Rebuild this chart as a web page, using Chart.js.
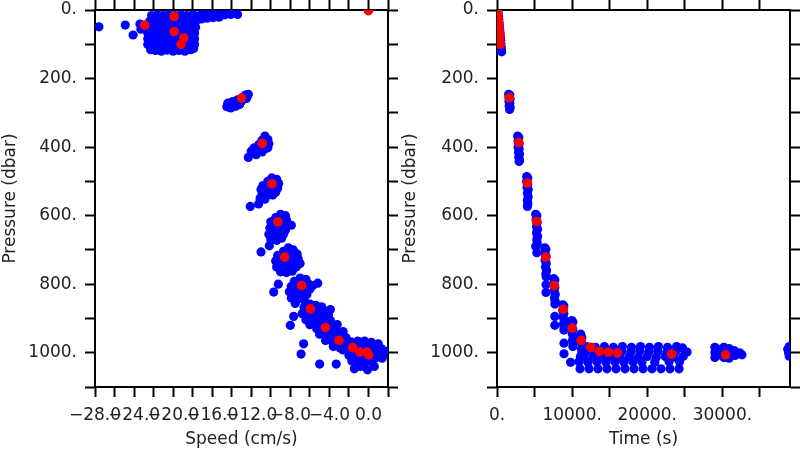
<!DOCTYPE html>
<html>
<head>
<meta charset="utf-8">
<script src="https://cdn.jsdelivr.net/npm/chart.js@4.4.1/dist/chart.umd.min.js"></script>
<style>
  html, body { margin: 0; padding: 0; background: #fff; }
  #wrap { position: relative; width: 800px; height: 450px; }
  canvas { position: absolute; top: 0; }
</style>
</head>
<body>
<div id="wrap">
  <canvas id="speedChart" width="400" height="450" style="left:0"></canvas>
  <canvas id="timeChart" width="400" height="450" style="left:400px"></canvas>
</div>
<script>
// ---- tick values and labels
const speedTicks = [-28,-26,-24,-22,-20,-18,-16,-14,-12,-10,-8,-6,-4,-2,0,2];
const speedTickLabels = ['\u221228.0','','\u221224.0','','\u221220.0','','\u221216.0','','\u221212.0','','\u22128.0','','\u22124.0','','0.0',''];
const timeTicks = [0,5000,10000,15000,20000,25000,30000,35000];
const timeTickLabels = ['0.','','10000.','','20000.','','30000.',''];
const pressureTicks = [0,100,200,300,400,500,600,700,800,900,1000,1100];
const pressureTickLabels = ['0.','','200.','','400.','','600.','','800.','','1000.',''];

// ---- speed (cm/s) vs pressure (dbar), blue = all samples, red = station means
const speedTop = [
  [-22.2,16],[-21.6,14],[-21.0,16],[-20.4,14],[-19.8,16],[-19.2,14],[-18.6,16],[-18.0,14],[-17.6,18],
  [-22.4,33],[-21.8,32],[-21.2,34],[-20.6,31],[-20.0,34],[-19.4,32],[-18.8,34],[-18.2,31],[-17.7,34],
  [-22.5,50],[-21.9,49],[-21.3,51],[-20.7,48],[-20.1,51],[-19.5,49],[-18.9,51],[-18.3,48],[-17.7,50],
  [-22.6,67],[-22.0,66],[-21.4,68],[-20.8,65],[-20.2,68],[-19.6,66],[-19.0,68],[-18.4,65],[-17.8,67],
  [-22.6,84],[-22.1,83],[-21.5,85],[-20.9,82],[-20.3,85],[-19.7,83],[-19.1,85],[-18.5,82],[-17.8,84],
  [-22.6,101],[-22.1,100],[-21.5,102],[-20.9,99],[-20.3,102],[-19.7,100],[-19.1,102],[-18.5,99],[-17.8,101],
  [-22.3,116],[-21.8,118],[-21.2,120],[-20.6,117],[-20.0,120],[-19.4,118],[-18.8,120],[-18.2,116],[-17.9,112]
];
const speedTail = [
  [-17.1,14],[-17.1,26],[-16.5,13],[-16.5,24],[-15.9,14],[-15.9,22],[-15.3,13],[-15.3,21],
  [-14.7,14],[-14.1,13],[-13.4,13]
];
const speedStray = [[-27.6,49],[-24.9,44],[-24.1,73],[-23.4,41],[-23.3,56]];
const speed260 = [
  [-14.5,282],[-14.4,272],[-14.0,278],[-13.9,267],[-13.5,272],[-13.4,262],[-13.0,266],[-12.8,254],
  [-12.5,258],[-12.3,246],[-12.6,248],[-14.1,286],[-13.6,281],[-13.2,276],[-12.4,252]
];
const speed390 = [
  [-10.6,368],[-10.3,378],[-10.9,380],[-11.2,392],[-10.6,392],[-10.2,390],[-11.7,402],[-11.1,404],
  [-10.6,405],[-10.3,402],[-12.0,412],[-11.4,414],[-10.9,414],[-11.5,422],[-12.3,430]
];
const speed500 = [
  [-9.9,490],[-9.4,494],[-10.3,500],[-9.7,502],[-9.2,506],[-10.8,512],[-10.3,514],[-9.7,516],
  [-9.3,520],[-11.0,524],[-10.5,526],[-10.0,528],[-9.5,532],[-10.9,538],[-10.4,540],[-9.8,540],
  [-11.1,550],[-10.6,552],[-12.1,573],[-11.25,566]
];
const speed620 = [
  [-9.0,596],[-8.5,600],[-9.5,606],[-9.0,610],[-8.4,612],[-10.0,618],[-9.4,622],[-8.8,624],
  [-8.2,626],[-7.9,628],[-10.1,636],[-9.6,638],[-9.0,640],[-8.5,642],[-10.2,654],[-9.7,656],
  [-9.2,658],[-8.7,654],[-10.0,670],[-9.4,672],[-8.9,666],[-11.0,706],[-10.15,688]
];
const speed720 = [
  [-8.2,694],[-7.7,700],[-8.7,704],[-8.0,708],[-7.3,712],[-9.3,716],[-8.6,720],[-7.9,722],
  [-7.2,726],[-9.5,732],[-9.0,734],[-8.3,736],[-7.6,738],[-7.0,740],[-9.4,750],[-8.8,752],
  [-8.1,752],[-7.4,750],[-9.0,764],[-8.4,766],[-7.8,762],[-9.23,800],[-9.7,823]
];
const speed800 = [
  [-7.0,782],[-6.4,786],[-7.6,792],[-6.9,796],[-6.2,798],[-5.2,797],[-5.7,804],[-7.9,806],
  [-7.4,808],[-6.7,812],[-6.0,814],[-8.1,822],[-7.6,826],[-6.9,828],[-6.3,830],[-7.9,840],
  [-7.2,842],[-6.6,846],[-7.5,856],[-7.66,894],[-8.0,920]
];
const speed870 = [
  [-6.0,858],[-5.4,862],[-4.8,866],[-6.6,868],[-5.9,874],[-5.2,878],[-4.5,878],[-3.9,874],
  [-6.8,886],[-6.1,890],[-5.4,892],[-4.7,894],[-4.1,890],[-6.4,904],[-5.7,906],[-5.0,908],
  [-6.0,918],[-5.3,922],[-6.64,974],[-6.9,1004],[-5.0,1033]
];
const speed930 = [
  [-4.6,902],[-3.9,906],[-5.2,912],[-4.5,918],[-3.8,922],[-3.2,918],[-5.3,930],[-4.6,934],
  [-3.9,938],[-3.3,936],[-2.6,938],[-5.0,946],[-4.3,950],[-3.6,954],[-2.9,954],[-2.3,956],
  [-4.4,964],[-3.7,968],[-3.0,972],[-2.4,972],[-3.6,982],[-2.9,986]
];
const speed1000 = [
  [-1.8,968],[-1.1,966],[-0.4,966],[0.3,970],[1.0,974],[-2.2,980],[-1.5,982],[-0.8,982],
  [-0.1,984],[0.6,986],[1.3,988],[1.8,996],[-2.6,992],[-1.9,994],[-1.2,996],[-0.5,998],
  [0.2,998],[0.9,1000],[1.5,1004],[-2.0,1008],[-1.3,1010],[-0.6,1012],[0.1,1012],[0.8,1014],
  [1.4,1016],[-1.7,1024],[-1.0,1026],[-0.3,1028],[0.4,1026],[-3.3,1033],[-1.44,1047],
  [-0.1,1050],[0.6,1040],[-0.8,1040]
];
const speedMeans = [
  [-22.9,44],[-19.9,19],[-19.9,63],[-18.9,81],[-19.2,100],[-13.0,257],[-10.87,389],[-9.88,507],
  [-9.27,618],[-8.58,721],[-6.84,804],[-5.95,872],[-4.41,926],[-3.02,964],[-1.62,985],[-0.90,998],
  [-0.14,998],[0.03,1006],[0.0,2]
];

// ---- time (s) vs pressure (dbar)
const timeDescent = [
  [60,0],[150,8],[200,18],[240,28],[290,38],[330,48],[370,58],[410,68],[450,78],[490,88],
  [520,98],[560,108],[590,116],[620,122]
];
const time260 = [[1550,246],[1700,248],[1600,256],[1750,260],[1600,266],[1700,272],[1620,280],[1750,284],[1680,290]];
const time390 = [[2750,368],[2900,372],[2800,382],[2950,390],[2800,400],[2950,405],[2850,415],[3000,420],[2900,430],[3000,438],[2950,442]];
const time500 = [[3950,486],[4100,490],[3950,500],[4100,508],[4000,518],[4150,524],[4050,535],[4150,545],[4050,555],[4100,565],[4050,573]];
const time620 = [[5150,596],[5300,600],[5200,612],[5350,620],[5250,632],[5400,640],[5250,650],[5400,660],[5300,670],[5350,680],[5150,690],[5300,708]];
const time720 = [[6350,694],[6500,698],[6400,710],[6550,720],[6400,730],[6550,740],[6450,750],[6600,760],[6500,770],[6550,778],[6520,802],[6520,824]];
const time800 = [[7550,784],[7700,788],[7550,800],[7700,810],[7600,820],[7750,830],[7650,840],[7750,850],[7700,858],[7700,894],[7700,920]];
const time870 = [[8750,860],[8900,864],[8750,876],[8900,886],[8800,896],[8950,906],[8850,916],[8950,926],[8900,934],[8920,972],[8920,1003]];
const time930 = [[9950,906],[10100,910],[9950,922],[10100,932],[10000,944],[10150,954],[10050,964],[10150,974],[10100,982],
  [11150,946],[11300,956],[11200,968],[11350,978],[11250,990],[11300,1000],[11100,1012]];
const timeBottom = [
  [11900,982],[13100,984],[14300,982],[15500,984],[16700,982],[17900,984],[19100,982],[20300,984],[21500,982],[22700,984],[23900,982],[24700,986],
  [11800,997],[13000,998],[14200,996],[15400,998],[16600,996],[17800,998],[19000,996],[20200,998],[21400,996],[22600,998],[23800,996],[25300,998],
  [11600,1012],[12800,1011],[14000,1013],[15200,1011],[16400,1013],[17600,1011],[18800,1013],[20000,1011],[21200,1013],[22400,1011],[23600,1013],[24800,1010],
  [9800,1028],[10900,1026],[12100,1028],[13300,1026],[14500,1028],[15700,1026],[16900,1028],[18100,1026],[19300,1028],[21000,1028],[22900,1026],[24300,1026],
  [11050,1047],[12250,1047],[13440,1047],[14640,1047],[15840,1047],[17040,1047],[18240,1047],[19440,1047],[20630,1047],[21830,1047],[23030,1047],[24230,1047]
];
const time30k = [
  [29000,984],[29000,1000],[29000,1014],[29500,990],[29600,1006],[30200,984],[30300,1000],[30200,1014],
  [30900,988],[31000,1004],[31600,994],[31700,1008],[32300,1000],[32600,1006],[30900,1016]
];
const time39k = [[38700,990],[38900,982],[38800,1000],[39000,996],[38900,1010],[39100,990]];
const timeMeans = [
  [30,2],[90,12],[140,22],[180,32],[220,42],[260,52],[300,62],[330,72],[360,82],[400,92],[430,100],
  [1640,256],[2890,387],[4040,505],[5280,617],[6480,721],[7630,804],[8830,873],[10020,928],
  [11220,964],[12470,984],[13620,996],[14820,998],[16020,1001],[23250,1004],[30440,1006]
];

Chart.defaults.font.family = "'DejaVu Sans', sans-serif";
Chart.defaults.font.size = 17;
Chart.defaults.color = '#222';

function axis(position, min, max, size, tickValues, opts) {
  opts = opts || {};
  const labels = opts.labels;
  return {
    type: 'linear', position: position, min: min, max: max,
    reverse: !!opts.reverse,
    grid: { drawOnChartArea: false, drawTicks: true, tickLength: 10, tickWidth: 2, tickColor: '#000' },
    border: { display: true, color: '#000', width: 2 },
    ticks: {
      autoSkip: false, maxRotation: 0, minRotation: 0,
      padding: opts.padding || 0, color: '#222',
      callback: (v, i) => (labels ? labels[i] : '')
    },
    title: opts.title
      ? { display: true, text: opts.title, color: '#222', padding: 0 }
      : { display: false },
    afterBuildTicks(s) { s.ticks = tickValues.map(v => ({ value: v })); },
    afterFit(s) {
      if (s.isHorizontal()) { s.height = size; s.paddingLeft = 0; s.paddingRight = 0; }
      else { s.width = size; s.paddingTop = 0; s.paddingBottom = 0; }
    }
  };
}

function panel(id, blue, red, xMin, xMax, xTicks, xLabels, xTitle, leftWidth, rightWidth) {
  new Chart(document.getElementById(id), {
    type: 'scatter',
    data: {
      datasets: [
        { data: red, backgroundColor: '#ff0000', pointRadius: 4.8, borderWidth: 0, clip: 0 },
        { data: blue, backgroundColor: '#0000ff', pointRadius: 4.6, borderWidth: 0, clip: 0 }
      ]
    },
    options: {
      responsive: false,
      animation: false,
      layout: { padding: 0 },
      plugins: { legend: { display: false }, tooltip: { enabled: false } },
      scales: {
        x: axis('bottom', xMin, xMax, 63, xTicks, { padding: 8, labels: xLabels, title: xTitle }),
        xTop: axis('top', xMin, xMax, 10, xTicks),
        y: axis('left', 0, 1100, leftWidth, pressureTicks,
          { reverse: true, padding: 8, labels: pressureTickLabels, title: 'Pressure (dbar)' }),
        yRight: axis('right', 0, 1100, rightWidth, pressureTicks, { reverse: true })
      }
    }
  });
}

panel('speedChart',
  [].concat(speedTop, speedTail, speedStray, speed260, speed390, speed500, speed620,
            speed720, speed800, speed870, speed930, speed1000),
  speedMeans, -28, 2, speedTicks, speedTickLabels, 'Speed (cm/s)', 95, 12);

panel('timeChart',
  [].concat(timeDescent, time260, time390, time500, time620, time720, time800, time870,
            time930, timeBottom, time30k, time39k),
  timeMeans, 0, 39000, timeTicks, timeTickLabels, 'Time (s)', 97, 10);
</script>
</body>
</html>
